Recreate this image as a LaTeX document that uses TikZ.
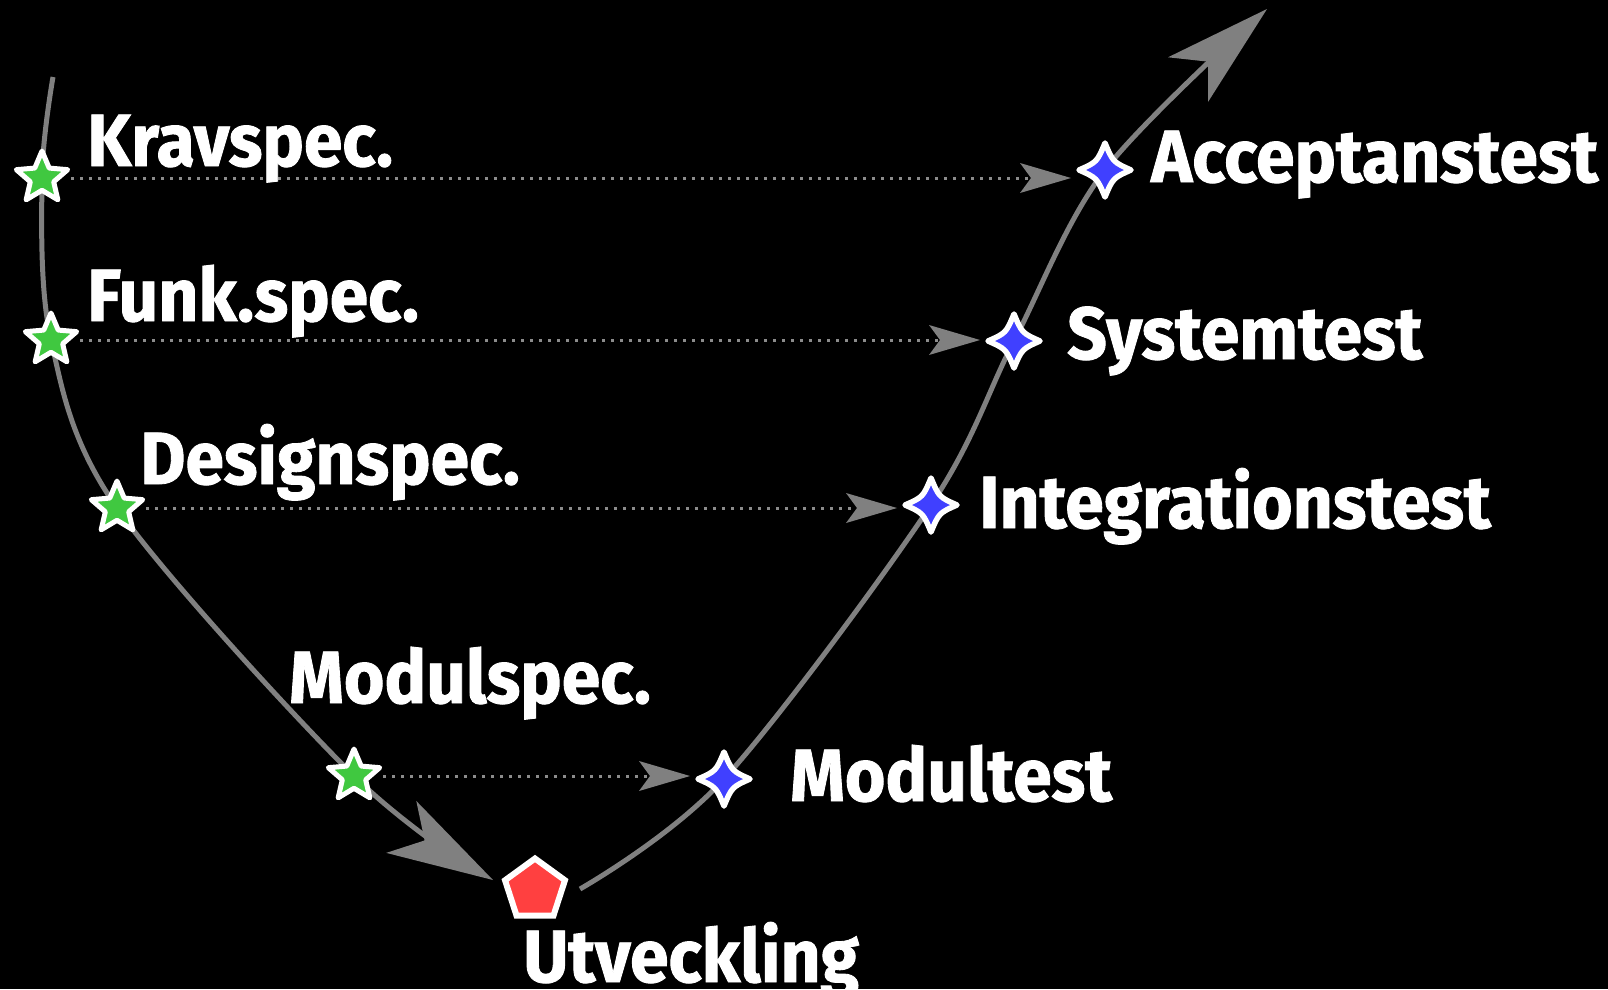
\documentclass[tikz,border=0pt]{standalone}
\usepackage{fontspec}
\setmainfont{Fira Sans}[BoldFeatures={FakeStretch=0.94, FakeBold=1.2}]
\usetikzlibrary{arrows.meta,shapes.geometric,backgrounds}
\definecolor{stargreen}{HTML}{40C840}
\definecolor{diablue}{HTML}{4040FF}
\definecolor{pentred}{HTML}{FF4040}
\definecolor{curvegray}{HTML}{808080}
\definecolor{dotgray}{HTML}{8C8C8C}
\begin{document}
\begin{tikzpicture}[x=1pt,y=-1pt,
 greenstar/.style={star, star points=5, star point ratio=2.2, minimum size=54pt, inner sep=0pt, fill=stargreen, draw=white, line width=5pt, line join=round},
 anchorcircle/.style={circle, minimum size=68pt, inner sep=0pt, outer sep=0pt},
 redpent/.style={regular polygon, regular polygon sides=5, minimum size=63pt, inner sep=0pt, fill=pentred, draw=white, line width=6pt},
 lbl/.style={anchor=base west, text=white, font=\fontsize{74}{80}\selectfont\bfseries, inner sep=0pt},
 vcurve/.style={draw=curvegray, line width=5pt, -{Stealth[length=106pt, width=60pt, inset=27pt, line width=0pt]}},
 linkarrow/.style={draw=dotgray, line width=3pt, dash pattern=on 3pt off 6pt, shorten <=29pt, shorten >=34pt, -{Stealth[length=51pt, width=30pt, inset=11pt, line width=0pt, color=curvegray]}},
 sparkle/.pic={\draw[draw=white, fill=diablue, line width=5.5pt, line join=round] (0pt,27pt) .. controls (8pt,8pt) .. (26pt,0pt) .. controls (8pt,-8pt) .. (0pt,-27pt) .. controls (-8pt,-8pt) .. (-26pt,0pt) .. controls (-8pt,8pt) .. cycle;}
]
\begin{scope}[on background layer]
\fill[black] (0,0) rectangle (1608,989);
\end{scope}
\useasboundingbox (0,0) rectangle (1608,989);

% spec stars (left branch)
\node[greenstar] (k1) at (42,178) {};
\node[greenstar] (k2) at (51,340) {};
\node[greenstar] (k3) at (117,508) {};
\node[greenstar] (k4) at (354,776) {};
% development
\node[redpent] (u) at (535,890) {};
% test markers (right branch)
\node[anchorcircle] (t4) at (724,779) {};
\node[anchorcircle] (t3) at (931,505) {};
\node[anchorcircle] (t2) at (1014,341) {};
\node[anchorcircle] (t1) at (1105,170) {};

\coordinate (ls) at (53,77);
\coordinate (le) at (493,880);
\coordinate (rs) at (580,889);
\coordinate (re) at (1267,9);

\begin{scope}[on background layer]
\draw[vcurve] plot[smooth, tension=0.55] coordinates {(ls) (k1.center) (k2.center) (k3.center) (k4.center) (le)};
\draw[vcurve] plot[smooth, tension=0.55] coordinates {(rs) (t4.center) (t3.center) (t2.center) (t1.center) (re)};
\end{scope}

\draw[linkarrow] (k1.center) -- (k1 -| t1);
\draw[linkarrow] (k2.center) -- (k2 -| t2);
\draw[linkarrow] (k3.center) -- (k3 -| t3);
\draw[linkarrow] (k4.center) -- (k4 -| t4);

\pic at (t1.center) {sparkle};
\pic at (t2.center) {sparkle};
\pic at (t3.center) {sparkle};
\pic at (t4.center) {sparkle};

\node[lbl] (lk1) at (87,166) {Kravspec.};
\node[lbl] (lk2) at (87,321) {Funk.spec.};
\node[lbl] (lk3) at (140,484) {Designspec.};
\node[lbl] (lk4) at (289,703) {Modulspec.};
\node[lbl] (lt1) at (1151,182) {Acceptanstest};
\node[lbl] (lt2) at (1067,359) {Systemtest};
\node[lbl] (lt3) at (979,528) {Integrationstest};
\node[lbl] (lt4) at (790,801) {Modultest};
\node[lbl] (lu) at (523,982) {Utveckling};
\end{tikzpicture}
\end{document}
